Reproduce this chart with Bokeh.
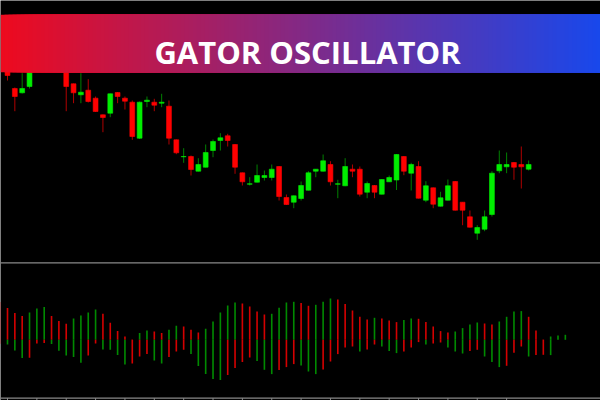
from bokeh.plotting import figure
from bokeh.models import Range1d, ColumnDataSource
from bokeh.core.properties import value
from bokeh.embed import file_html
from bokeh.resources import INLINE

# ---------------- data (price in chart points) ----------------
candle_idx = list(range(72))
opens = [234, 212, 207.7, 214, 238, 234, 240, 235, 240, 216.7,
         205.7, 210.3, 202.3, 185.7, 187.3, 208, 202.3, 198.3, 162.3, 199,
         198.3, 197.3, 194.3, 160.7, 143.7, 144, 129.3, 133.3, 150, 160,
         164.7, 156, 127.7, 116.3, 118.3, 123, 123, 134, 103, 98.3,
         102, 110.3, 129.3, 129.3, 136, 116.3, 114.7, 131.3, 131.3, 108.3,
         115, 106.3, 118.7, 120.5, 144, 127.3, 134, 100.3, 112.7, 94.3,
         100.3, 119, 98.3, 83.7, 67.3, 71.3, 86, 129.7, 133.7, 138,
         136, 131.3]
highs = [238, 213, 227.3, 238, 245, 242, 245, 244, 244, 217,
         227.3, 221.3, 204, 186, 207, 208.5, 204, 200, 199, 204,
         201.7, 206.7, 200, 161, 152.3, 145, 142.3, 156, 161, 167.3,
         166.7, 156.5, 128, 123.3, 136, 130, 136, 134.5, 106, 105,
         119, 129.3, 131.5, 146, 139.3, 120.7, 142.3, 136, 134, 119,
         115.5, 121.5, 125, 146.5, 144.5, 137.7, 139.3, 119.3, 113, 108.7,
         121, 119.5, 98.5, 90, 75.3, 90, 129.3, 150, 148, 138.5,
         154, 140]
lows = [220, 189.3, 207, 212, 232, 230, 232, 231, 189.3, 197.3,
        197.3, 198, 188.5, 168.3, 183.3, 197.3, 191, 160.7, 161.5, 193.3,
        189.3, 193.3, 156, 146.3, 137.7, 125, 129, 133, 143.3, 150,
        154, 126.7, 115, 115, 118, 120, 120, 100, 95.5, 92.3,
        100, 110, 123.3, 129, 115, 102.3, 114.3, 123.3, 104, 102.3,
        102.3, 106, 118.5, 110.5, 125.3, 110, 102, 98.3, 92.3, 94,
        100, 90, 75.3, 73, 60.7, 69.3, 84, 127.3, 127.3, 120.7,
        112, 130]
closes = [225, 204, 212, 234, 235, 240, 236, 242, 214, 207.7,
          208.3, 199, 189, 183, 206.7, 204, 199.3, 164, 198.3, 200.3,
          195.3, 198.3, 162.3, 147.7, 144, 131, 136, 148, 159, 162.7,
          160, 133.3, 118.7, 116.7, 125, 125, 131.3, 104, 96, 104.7,
          115, 127.7, 131.3, 139.7, 118.7, 116.7, 134, 129.3, 106.3, 117,
          108.3, 121, 123, 146, 129.3, 136, 102.3, 114.7, 96.3, 102.7,
          114.7, 90.3, 90.3, 73.3, 73, 83.7, 127.3, 136, 136, 133.3,
          133.7, 136]

# Gator oscillator: upper histogram |jaw-teeth|, lower histogram -|teeth-lips|
upper_idx = list(range(-1, 77))
upper_vals = [37.7, 31.7, 26.7, 23.7, 27.3, 31.3, 32.7, 23.7, 18.7, 16,
              21.3, 24.3, 27.3, 30.3, 26, 17, 8.7, 3.3, 0.3, 6.7,
              9.3, 8.3, 6.7, 10, 14, 13.3, 10, 7.3, 11, 18.3,
              27.3, 34.3, 37.3, 36.3, 33.3, 28.3, 25.3, 26, 32, 37.3,
              38, 36.7, 34, 35, 38, 41.3, 40.3, 35.7, 29.3, 23,
              20.3, 22, 21.3, 19.3, 17.7, 19.7, 21.3, 21.0, 17.7, 13.3,
              8.7, 7.3, 8.3, 11.7, 15.3, 17.3, 16.3, 15.3, 18.3, 23,
              28.3, 28.7, 23, 9.3, 0.3, 3.3, 4.3, 5]
lower_idx = list(range(-1, 75))
lower_vals = [-4, -4.7, -10.7, -18.3, -18, -3.7, -3.3, -4.3, -11, -15.7,
              -17.3, -23, -15.7, -3.7, -9.7, -10, -15.3, -24.7, -23.7, -16.7,
              -14.3, -20.7, -23.7, -17.3, -11.7, -10, -14.3, -26.3, -34.3, -39.3,
              -40.3, -35.3, -28.3, -22.3, -17.7, -21.3, -30, -34.3, -30.3, -27.3,
              -24.3, -25.7, -31.7, -34.3, -29.7, -21.7, -14.3, -7.7, -6.7, -11.7,
              -9.7, -4.7, -6.7, -11.3, -13.3, -11.7, -7.7, -2.3, -4.7, -3.7,
              -2.7, -7.7, -11.7, -13.7, -11.3, -10, -16.7, -22.3, -27.3, -26,
              -13, -6.7, -16.7, -15.3, -15.0, -15.3]

time_ticks = list(range(0, 69, 4))
title_text = "GATOR OSCILLATOR"

# ---------------- colours ----------------
BULL, BEAR = "#00ee00", "#ff0000"
BULL_WICK, BEAR_WICK = "#008000", "#b00000"
OSC_UP, OSC_DOWN = "#008a00", "#d40000"


def hist_colors(vals):
    cols = [OSC_DOWN]
    for k in range(1, len(vals)):
        cols.append(OSC_UP if abs(vals[k]) > abs(vals[k - 1]) else OSC_DOWN)
    return cols


bull = [c >= o for o, c in zip(opens, closes)]
candles = ColumnDataSource(dict(
    x=candle_idx,
    high=highs, low=lows,
    top=[max(o, c) for o, c in zip(opens, closes)],
    bottom=[min(o, c) for o, c in zip(opens, closes)],
    body=[BULL if b else BEAR for b in bull],
    wick=[BULL_WICK if b else BEAR_WICK for b in bull],
))
upper_src = ColumnDataSource(dict(x=upper_idx, top=upper_vals, color=hist_colors(upper_vals)))
lower_src = ColumnDataSource(dict(x=lower_idx, bottom=lower_vals, color=hist_colors(lower_vals)))

# ---------------- figure ----------------
W, H = 600, 400
p = figure(width=W, height=H, output_backend="svg", toolbar_location=None,
           x_range=Range1d(-0.954, 80.79), y_range=Range1d(-100, 300),
           x_axis_type=None, y_axis_type=None, min_border=0,
           background_fill_color="black", border_fill_color="black",
           outline_line_color=None)
p.grid.visible = False
p.extra_x_ranges = {"px": Range1d(0, 600)}
p.extra_y_ranges = {"px": Range1d(400, 0), "osc": Range1d(-60.7, 339.3)}

# candles
p.segment(x0="x", x1="x", y0="high", y1="low", line_color="wick", line_width=1, source=candles)
p.vbar(x="x", width=0.66, top="top", bottom="bottom", fill_color="body",
       line_color="body", line_width=0.6, source=candles)

# separator between panes
p.segment(x0=[0], x1=[600], y0=[262.3], y1=[262.3], x_range_name="px", y_range_name="px",
          line_color="#8a8a8a", line_width=1.2)

# gator histogram
p.vbar(x="x", width=0.22, top="top", bottom=0, fill_color="color", line_color=None,
       y_range_name="osc", source=upper_src)
p.vbar(x="x", width=0.22, top=0, bottom="bottom", fill_color="color", line_color=None,
       y_range_name="osc", source=lower_src)

# time axis line with ticks at the bottom
p.segment(x0=[0], x1=[600], y0=[397.6], y1=[397.6], x_range_name="px", y_range_name="px",
          line_color="#8a8a8a", line_width=1.2)
p.segment(x0=time_ticks, x1=time_ticks, y0=[397.6] * len(time_ticks), y1=[401] * len(time_ticks),
          y_range_name="px", line_color="#8a8a8a", line_width=1)

# title banner with a red -> blue gradient (stacked strips, no seams)
c0 = (238, 10, 30)
c1 = (24, 72, 236)
n = 150
lefts, cols = [], []
for k in range(n):
    t = (k + 0.5) / n
    rgb = tuple(int(round(a + (b - a) * t)) for a, b in zip(c0, c1))
    lefts.append(600 * k / n)
    cols.append("#%02x%02x%02x" % rgb)
p.quad(left=lefts, right=[600] * n, top=[14.3] * n, bottom=[71.7] * n, fill_color=cols,
       line_color=None, x_range_name="px", y_range_name="px")
p.text(x=[307], y=[51.7], text=[title_text], x_range_name="px", y_range_name="px",
       text_color="white", text_font=value("Open Sans"), text_font_style="bold",
       text_font_size="31px", text_align="center", text_baseline="alphabetic")

open("out.html", "w").write(file_html(p, INLINE))
